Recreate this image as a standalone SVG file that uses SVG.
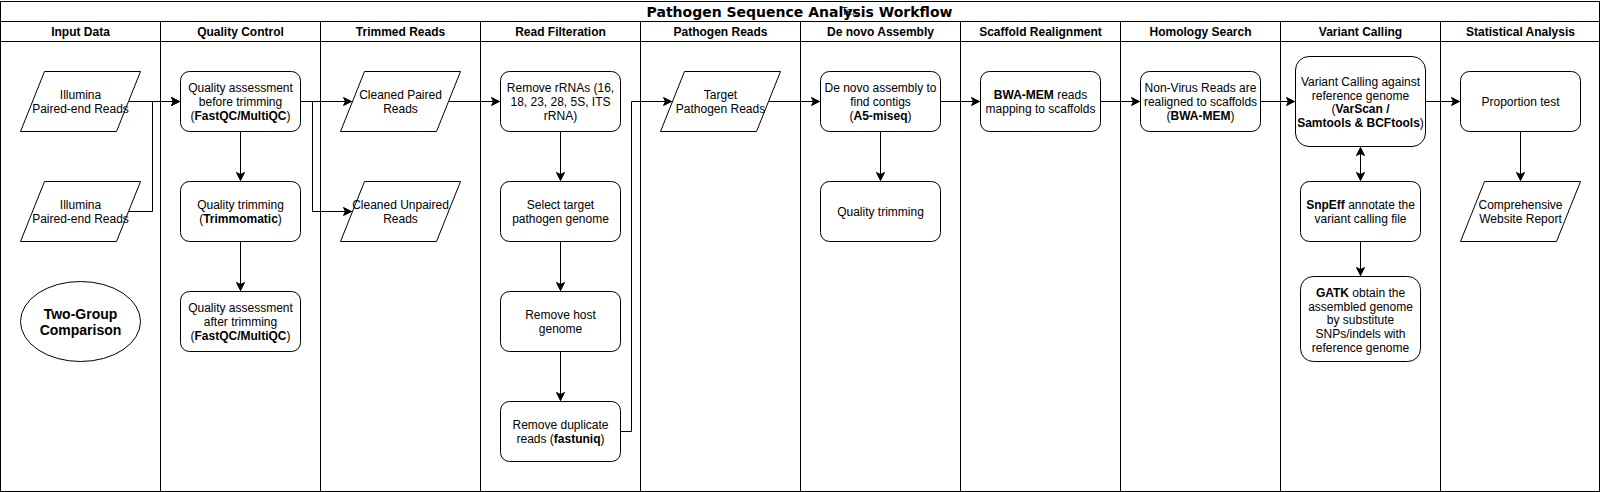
<svg xmlns="http://www.w3.org/2000/svg" width="1601" height="492" viewBox="0 0 1601 492">
<style>
.frame{fill:none;stroke:#000;stroke-width:1}
.node{fill:#fff;stroke:#000;stroke-width:1}
.t{font-family:"Liberation Sans",Arial,Helvetica,sans-serif;font-size:12px;fill:#000;text-anchor:middle}
.h{font-family:"Liberation Sans",Arial,Helvetica,sans-serif;font-size:12px;font-weight:bold;fill:#000;text-anchor:middle}
.b{font-weight:bold}
.title{font-family:"DejaVu Sans",Verdana,sans-serif;font-size:14px;font-weight:bold;fill:#000;text-anchor:middle}
.c{fill:none;stroke:#000;stroke-width:1}
</style>
<defs>
<marker id="arr" markerUnits="userSpaceOnUse" markerWidth="10" markerHeight="10" viewBox="0 0 10 10" refX="9" refY="5" orient="auto">
<path d="M1,1 L9,5 L1,9 L3,5 Z" fill="#000" stroke="#000" stroke-width="1"/>
</marker>
<marker id="arrS" markerUnits="userSpaceOnUse" markerWidth="10" markerHeight="10" viewBox="0 0 10 10" refX="9" refY="5" orient="auto-start-reverse">
<path d="M1,1 L9,5 L1,9 L3,5 Z" fill="#000" stroke="#000" stroke-width="1"/>
</marker>
</defs>
<rect x="0" y="0" width="1601" height="492" fill="#fff"/>
<g transform="translate(0.5,0.5)">
<g id="pool">
<rect class="frame" x="0" y="1" width="1599" height="490"/>
<line class="frame" x1="0" y1="21" x2="1599" y2="21"/>
<line class="frame" x1="0" y1="41" x2="1599" y2="41"/>
<line class="frame" x1="160" y1="21" x2="160" y2="491"/>
<line class="frame" x1="320" y1="21" x2="320" y2="491"/>
<line class="frame" x1="480" y1="21" x2="480" y2="491"/>
<line class="frame" x1="640" y1="21" x2="640" y2="491"/>
<line class="frame" x1="800" y1="21" x2="800" y2="491"/>
<line class="frame" x1="960" y1="21" x2="960" y2="491"/>
<line class="frame" x1="1120" y1="21" x2="1120" y2="491"/>
<line class="frame" x1="1280" y1="21" x2="1280" y2="491"/>
<line class="frame" x1="1440" y1="21" x2="1440" y2="491"/>
<text class="title" x="799" y="16.5">Pathogen Sequence Analysis Workflow</text>
<text x="841" y="14" style="font-family:'Liberation Sans',Arial,sans-serif;font-size:10px;fill:#000">Tex</text>
<text class="h" x="80" y="35">Input Data</text>
<text class="h" x="240" y="35">Quality Control</text>
<text class="h" x="400" y="35">Trimmed Reads</text>
<text class="h" x="560" y="35">Read Filteration</text>
<text class="h" x="720" y="35">Pathogen Reads</text>
<text class="h" x="880" y="35">De novo Assembly</text>
<text class="h" x="1040" y="35">Scaffold Realignment</text>
<text class="h" x="1200" y="35">Homology Search</text>
<text class="h" x="1360" y="35">Variant Calling</text>
<text class="h" x="1520" y="35">Statistical Analysis</text>
</g>
<g id="connectors">
<path class="c" d="M128,101 H179" marker-end="url(#arr)"/>
<path class="c" d="M128,211 H152 V101 H179" marker-end="url(#arr)"/>
<path class="c" d="M300,101 H351" marker-end="url(#arr)"/>
<path class="c" d="M300,101 H312 V211 H351" marker-end="url(#arr)"/>
<path class="c" d="M240,131 V180" marker-end="url(#arr)"/>
<path class="c" d="M240,241 V290" marker-end="url(#arr)"/>
<path class="c" d="M448,101 H499" marker-end="url(#arr)"/>
<path class="c" d="M560,131 V180" marker-end="url(#arr)"/>
<path class="c" d="M560,241 V290" marker-end="url(#arr)"/>
<path class="c" d="M560,351 V400" marker-end="url(#arr)"/>
<path class="c" d="M620,431 H631 V101 H671" marker-end="url(#arr)"/>
<path class="c" d="M768,101 H819" marker-end="url(#arr)"/>
<path class="c" d="M880,131 V180" marker-end="url(#arr)"/>
<path class="c" d="M940,101 H979" marker-end="url(#arr)"/>
<path class="c" d="M1100,101 H1139" marker-end="url(#arr)"/>
<path class="c" d="M1260,101 H1294" marker-end="url(#arr)"/>
<path class="c" d="M1360,147 V180" marker-start="url(#arrS)" marker-end="url(#arr)"/>
<path class="c" d="M1360,241 V275" marker-end="url(#arr)"/>
<path class="c" d="M1425,101 H1459" marker-end="url(#arr)"/>
<path class="c" d="M1520,131 V180" marker-end="url(#arr)"/>
</g>
<g id="illumina1">
<polygon class="node" points="44,71 140,71 116,131 20,131"/>
<text class="t" x="80" y="98">Illumina</text>
<text class="t" x="80" y="112">Paired-end Reads</text>
</g>
<g id="illumina2">
<polygon class="node" points="44,181 140,181 116,241 20,241"/>
<text class="t" x="80" y="208">Illumina</text>
<text class="t" x="80" y="222">Paired-end Reads</text>
</g>
<g id="twogroup">
<ellipse class="node" cx="80" cy="321" rx="60" ry="40"/>
<text class="t b" x="80" y="318" style="font-size:14px">Two-Group</text>
<text class="t b" x="80" y="334" style="font-size:14px">Comparison</text>
</g>
<g id="qa-before">
<rect class="node" x="180" y="71" width="120" height="60" rx="9"/>
<text class="t" x="240" y="91">Quality assessment</text>
<text class="t" x="240" y="105">before trimming</text>
<text class="t" x="240" y="119">(<tspan class="b">FastQC/MultiQC</tspan>)</text>
</g>
<g id="qtrim">
<rect class="node" x="180" y="181" width="120" height="60" rx="9"/>
<text class="t" x="240" y="208">Quality trimming</text>
<text class="t" x="240" y="222">(<tspan class="b">Trimmomatic</tspan>)</text>
</g>
<g id="qa-after">
<rect class="node" x="180" y="291" width="120" height="60" rx="9"/>
<text class="t" x="240" y="311">Quality assessment</text>
<text class="t" x="240" y="325">after trimming</text>
<text class="t" x="240" y="339">(<tspan class="b">FastQC/MultiQC</tspan>)</text>
</g>
<g id="cleaned-paired">
<polygon class="node" points="364,71 460,71 436,131 340,131"/>
<text class="t" x="400" y="98">Cleaned Paired</text>
<text class="t" x="400" y="112">Reads</text>
</g>
<g id="cleaned-unpaired">
<polygon class="node" points="364,181 460,181 436,241 340,241"/>
<text class="t" x="400" y="208">Cleaned Unpaired</text>
<text class="t" x="400" y="222">Reads</text>
</g>
<g id="remove-rrna">
<rect class="node" x="500" y="71" width="120" height="60" rx="9"/>
<text class="t" x="560" y="91">Remove rRNAs (16,</text>
<text class="t" x="560" y="105">18, 23, 28, 5S, ITS</text>
<text class="t" x="560" y="119">rRNA)</text>
</g>
<g id="select-target">
<rect class="node" x="500" y="181" width="120" height="60" rx="9"/>
<text class="t" x="560" y="208">Select target</text>
<text class="t" x="560" y="222">pathogen genome</text>
</g>
<g id="remove-host">
<rect class="node" x="500" y="291" width="120" height="60" rx="9"/>
<text class="t" x="560" y="318">Remove host</text>
<text class="t" x="560" y="332">genome</text>
</g>
<g id="remove-dup">
<rect class="node" x="500" y="401" width="120" height="60" rx="9"/>
<text class="t" x="560" y="428">Remove duplicate</text>
<text class="t" x="560" y="442">reads (<tspan class="b">fastuniq</tspan>)</text>
</g>
<g id="target-reads">
<polygon class="node" points="684,71 780,71 756,131 660,131"/>
<text class="t" x="720" y="98">Target</text>
<text class="t" x="720" y="112">Pathogen Reads</text>
</g>
<g id="denovo">
<rect class="node" x="820" y="71" width="120" height="60" rx="9"/>
<text class="t" x="880" y="91">De novo assembly to</text>
<text class="t" x="880" y="105">find contigs</text>
<text class="t" x="880" y="119">(<tspan class="b">A5-miseq</tspan>)</text>
</g>
<g id="denovo-trim">
<rect class="node" x="820" y="181" width="120" height="60" rx="9"/>
<text class="t" x="880" y="215">Quality trimming</text>
</g>
<g id="bwa-scaffold">
<rect class="node" x="980" y="71" width="120" height="60" rx="9"/>
<text class="t" x="1040" y="98"><tspan class="b">BWA-MEM</tspan> reads</text>
<text class="t" x="1040" y="112">mapping to scaffolds</text>
</g>
<g id="homology">
<rect class="node" x="1140" y="71" width="120" height="60" rx="9"/>
<text class="t" x="1200" y="91">Non-Virus Reads are</text>
<text class="t" x="1200" y="105">realigned to scaffolds</text>
<text class="t" x="1200" y="119">(<tspan class="b">BWA-MEM</tspan>)</text>
</g>
<g id="variant">
<rect class="node" x="1295" y="56" width="130" height="90" rx="13.5"/>
<text class="t" x="1360" y="85.5">Variant Calling against</text>
<text class="t" x="1360" y="99">reference genome</text>
<text class="t" x="1360" y="112.5">(<tspan class="b">VarScan /</tspan></text>
<text class="t" x="1360" y="126"><tspan class="b">Samtools &amp; BCFtools</tspan>)</text>
</g>
<g id="snpeff">
<rect class="node" x="1300" y="181" width="120" height="60" rx="9"/>
<text class="t" x="1360" y="208"><tspan class="b">SnpEff</tspan> annotate the</text>
<text class="t" x="1360" y="222">variant calling file</text>
</g>
<g id="gatk">
<rect class="node" x="1300" y="276" width="120" height="85" rx="12.75"/>
<text class="t" x="1360" y="296"><tspan class="b">GATK</tspan> obtain the</text>
<text class="t" x="1360" y="310">assembled genome</text>
<text class="t" x="1360" y="323.5">by substitute</text>
<text class="t" x="1360" y="337">SNPs/indels with</text>
<text class="t" x="1360" y="351">reference genome</text>
</g>
<g id="proportion">
<rect class="node" x="1460" y="71" width="120" height="60" rx="9"/>
<text class="t" x="1520" y="105">Proportion test</text>
</g>
<g id="report">
<polygon class="node" points="1484,181 1580,181 1556,241 1460,241"/>
<text class="t" x="1520" y="208">Comprehensive</text>
<text class="t" x="1520" y="222">Website Report</text>
</g>
</g>
</svg>
